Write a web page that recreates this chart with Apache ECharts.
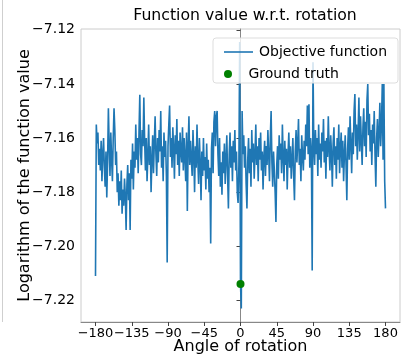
<!DOCTYPE html>
<html>
<head>
<meta charset="utf-8" />
<title>Function value w.r.t. rotation</title>
<script type="text/javascript" src="https://cdn.jsdelivr.net/npm/echarts@6/dist/echarts.min.js"></script>
<style>
  html, body { margin: 0; padding: 0; background: #fff; }
  #main { width: 403px; height: 358px; }
</style>
</head>
<body>
<div id="main"></div>
<script type="text/javascript">
// objective value, one per degree from -180 to 180
var objective = [
  -7.211, -7.155, -7.162, -7.158, -7.170, -7.164, -7.172, -7.161, -7.176, -7.166,
  -7.160, -7.171, -7.178, -7.165, -7.182, -7.169, -7.149, -7.163, -7.174, -7.158,
  -7.168, -7.176, -7.160, -7.149, -7.157, -7.170, -7.165, -7.180, -7.173, -7.185,
  -7.176, -7.183, -7.172, -7.188, -7.179, -7.185, -7.175, -7.181, -7.194, -7.177,
  -7.170, -7.183, -7.173, -7.194, -7.168, -7.175, -7.162, -7.179, -7.165, -7.171,
  -7.155, -7.168, -7.160, -7.173, -7.158, -7.144, -7.166, -7.170, -7.157, -7.163,
  -7.145, -7.161, -7.172, -7.160, -7.176, -7.167, -7.155, -7.170, -7.163, -7.180,
  -7.168, -7.159, -7.173, -7.162, -7.152, -7.166, -7.174, -7.160, -7.169, -7.157,
  -7.165, -7.150, -7.171, -7.163, -7.176, -7.158, -7.167, -7.161, -7.174, -7.206,
  -7.163, -7.155, -7.148, -7.167, -7.160, -7.171, -7.156, -7.164, -7.175, -7.159,
  -7.166, -7.153, -7.170, -7.161, -7.174, -7.158, -7.165, -7.169, -7.156, -7.172,
  -7.160, -7.167, -7.176, -7.158, -7.187, -7.163, -7.152, -7.170, -7.161, -7.168,
  -7.174, -7.157, -7.166, -7.180, -7.163, -7.171, -7.155, -7.168, -7.177, -7.160,
  -7.169, -7.183, -7.165, -7.174, -7.160, -7.172, -7.167, -7.179, -7.162, -7.175,
  -7.168, -7.180, -7.171, -7.199, -7.164, -7.158, -7.173, -7.154, -7.150, -7.163,
  -7.152, -7.150, -7.166, -7.174, -7.160, -7.178, -7.169, -7.181, -7.165, -7.173,
  -7.162, -7.177, -7.168, -7.159, -7.174, -7.186, -7.166, -7.158, -7.171, -7.163,
  -7.176, -7.161, -7.169, -7.157, -7.172, -7.165, -7.180, -7.184, -7.170, -7.1245,
  -7.214, -7.223, -7.150, -7.166, -7.159, -7.171, -7.163, -7.177, -7.186, -7.168,
  -7.160, -7.173, -7.164, -7.178, -7.157, -7.169, -7.162, -7.175, -7.166, -7.155,
  -7.170, -7.163, -7.176, -7.160, -7.168, -7.158, -7.172, -7.165, -7.179, -7.167,
  -7.161, -7.174, -7.163, -7.170, -7.157, -7.166, -7.176, -7.160, -7.150, -7.169,
  -7.178, -7.165, -7.172, -7.180, -7.191, -7.170, -7.163, -7.175, -7.159, -7.168,
  -7.162, -7.173, -7.155, -7.167, -7.176, -7.161, -7.170, -7.164, -7.179, -7.166,
  -7.158, -7.171, -7.163, -7.175, -7.168, -7.160, -7.174, -7.183, -7.165, -7.157,
  -7.169, -7.162, -7.153, -7.170, -7.164, -7.176, -7.159, -7.167, -7.172, -7.161,
  -7.168, -7.155, -7.163, -7.148, -7.166, -7.1475, -7.171, -7.160, -7.165, -7.209,
  -7.132, -7.163, -7.170, -7.157, -7.166, -7.160, -7.174, -7.155, -7.168, -7.162,
  -7.171, -7.158, -7.165, -7.153, -7.169, -7.161, -7.175, -7.160, -7.167, -7.152,
  -7.164, -7.172, -7.159, -7.166, -7.178, -7.162, -7.156, -7.170, -7.163, -7.175,
  -7.160, -7.168, -7.155, -7.173, -7.164, -7.158, -7.171, -7.161, -7.176, -7.166,
  -7.159, -7.170, -7.183, -7.164, -7.156, -7.168, -7.152, -7.162, -7.173, -7.158,
  -7.166, -7.150, -7.1437, -7.163, -7.155, -7.168, -7.158, -7.145, -7.165, -7.152,
  -7.161, -7.170, -7.156, -7.149, -7.163, -7.154, -7.167, -7.146, -7.140, -7.159,
  -7.151, -7.165, -7.157, -7.170, -7.155, -7.162, -7.150, -7.166, -7.178, -7.160,
  -7.153, -7.167, -7.158, -7.147, -7.163, -7.155, -7.140, -7.168, -7.140, -7.176,
  -7.186
];
var startAngle = -180;
var groundTruth = [[0, -7.214]];
var xTicks = [-180, -135, -90, -45, 0, 45, 90, 135, 180];
var yTicks = [-7.22, -7.20, -7.18, -7.16, -7.14, -7.12];

var lineData = objective.map(function (v, i) { return [startAngle + i, v]; });

function minus(s) { return String(s).replace('-', '\u2212'); }

var font = 'DejaVu Sans';
var myChart = echarts.init(document.getElementById('main'));
myChart.setOption({
  animation: false,
  textStyle: { fontFamily: font, color: '#000' },
  title: {
    text: 'Function value w.r.t. rotation',
    left: 240, top: 3, textAlign: 'center',
    textStyle: { fontFamily: font, fontSize: 15.7, fontWeight: 'normal', color: '#000' }
  },
  grid: {
    left: 81, right: 3, top: 29, bottom: 36,
    outerBoundsMode: 'none', containLabel: false,
    show: true, borderColor: '#cccccc', borderWidth: 1
  },
  graphic: [
    { type: 'line', shape: { x1: 2.5, y1: 0, x2: 2.5, y2: 322 }, style: { stroke: '#cfcfcf', lineWidth: 1 } },
    {
      type: 'rect', z: 3,
      shape: { x: 213, y: 38, width: 185, height: 45, r: 3 },
      style: { fill: 'rgba(255,255,255,0.8)', stroke: '#dddddd', lineWidth: 1 }
    }
  ],
  legend: [
    {
      data: ['Objective function'], left: 219, top: 40, z: 5,
      icon: 'rect', itemWidth: 29, itemHeight: 1.6,
      textStyle: { fontFamily: font, fontSize: 14, color: '#000', padding: [0, 0, 0, 1] }
    },
    {
      data: ['Ground truth'], left: 219, top: 62, z: 5,
      icon: 'circle', itemWidth: 29, itemHeight: 8,
      textStyle: { fontFamily: font, fontSize: 14, color: '#000', padding: [0, 0, 0, 1] }
    }
  ],
  xAxis: {
    type: 'value', min: -198, max: 198,
    name: 'Angle of rotation', nameLocation: 'middle', nameGap: 17, nameMoveOverlap: false,
    nameTextStyle: { fontFamily: font, fontSize: 16, color: '#000' },
    axisLine: { lineStyle: { color: '#888', width: 1 } },
    axisTick: { show: true, length: 4, lineStyle: { color: '#444' }, customValues: xTicks },
    axisLabel: {
      fontFamily: font, fontSize: 13, color: '#000', margin: 5,
      hideOverlap: false, showMinLabel: true, showMaxLabel: true,
      customValues: xTicks, formatter: function (v) { return minus(v); }
    },
    splitLine: { show: false }
  },
  yAxis: {
    type: 'value', min: -7.228, max: -7.1197,
    name: 'Logarithm of the function value', nameLocation: 'middle', nameGap: 48, nameMoveOverlap: false,
    nameTextStyle: { fontFamily: font, fontSize: 16, color: '#000' },
    axisLine: { show: true, lineStyle: { color: '#888', width: 1 } },
    axisTick: { show: true, length: 4, lineStyle: { color: '#444' }, customValues: yTicks },
    axisLabel: {
      fontFamily: font, fontSize: 14, color: '#000', margin: 6,
      hideOverlap: false, showMinLabel: true, showMaxLabel: true,
      customValues: yTicks, formatter: function (v) { return minus(v.toFixed(2)); }
    },
    splitLine: { show: false }
  },
  series: [
    {
      name: 'Objective function', type: 'line', data: lineData,
      showSymbol: false, symbol: 'none', z: 2,
      lineStyle: { color: '#1f77b4', width: 1.6 },
      itemStyle: { color: '#1f77b4' }
    },
    {
      name: 'Ground truth', type: 'scatter', data: groundTruth,
      symbolSize: 8, z: 3,
      itemStyle: { color: '#008000', opacity: 1 }
    }
  ]
});
</script>
</body>
</html>
